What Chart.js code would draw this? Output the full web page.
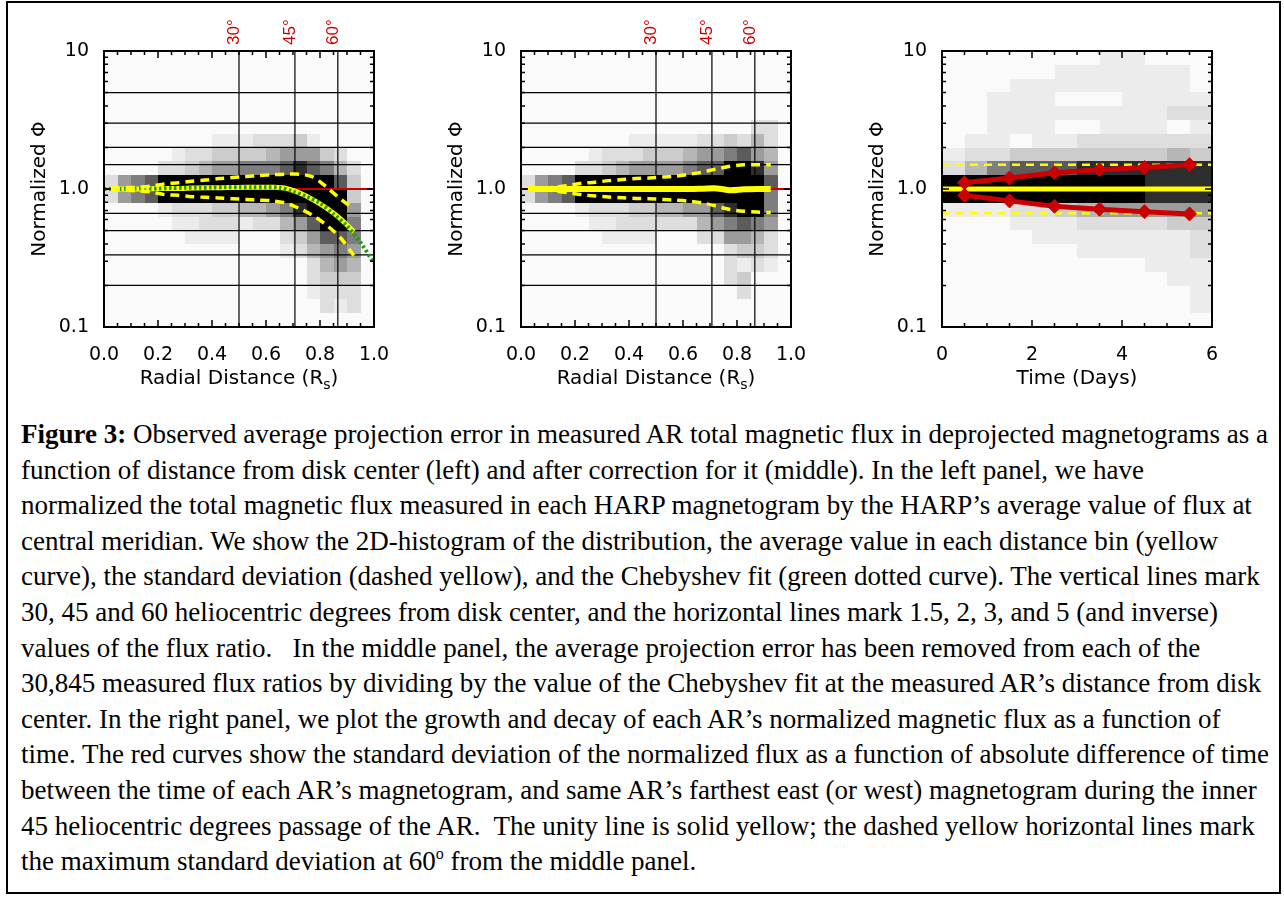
<!DOCTYPE html>
<html>
<head>
<meta charset="utf-8">
<script src="https://cdn.jsdelivr.net/npm/chart.js@4/dist/chart.umd.min.js"></script>
<style>
  html, body { margin:0; padding:0; background:#fff; }
  body { width:1284px; height:903px; position:relative; overflow:hidden; }
  #frame { position:absolute; left:6px; top:1px; width:1271px; height:889px; border:2px solid #000; }
  canvas.panel { position:absolute; top:0; }
  #caption { position:absolute; left:21px; top:417px; font-family:"Liberation Serif", "Times New Roman", serif;
             font-size:27px; line-height:35.6px; color:#000; }
  #caption div { white-space:pre; }
  #caption .sup { font-size:16px; position:relative; top:-11px; }
</style>
</head>
<body>
<div id="frame"></div>
<canvas id="left" class="panel" width="420" height="400" style="left:0px"></canvas>
<canvas id="middle" class="panel" width="420" height="400" style="left:417px"></canvas>
<canvas id="right" class="panel" width="420" height="400" style="left:838px"></canvas>

<div id="caption">
<div><b>Figure 3:</b> Observed average projection error in measured AR total magnetic flux in deprojected magnetograms as a</div>
<div>function of distance from disk center (left) and after correction for it (middle). In the left panel, we have</div>
<div>normalized the total magnetic flux measured in each HARP magnetogram by the HARP’s average value of flux at</div>
<div>central meridian. We show the 2D-histogram of the distribution, the average value in each distance bin (yellow</div>
<div>curve), the standard deviation (dashed yellow), and the Chebyshev fit (green dotted curve). The vertical lines mark</div>
<div>30, 45 and 60 heliocentric degrees from disk center, and the horizontal lines mark 1.5, 2, 3, and 5 (and inverse)</div>
<div>values of the flux ratio.   In the middle panel, the average projection error has been removed from each of the</div>
<div>30,845 measured flux ratios by dividing by the value of the Chebyshev fit at the measured AR’s distance from disk</div>
<div>center. In the right panel, we plot the growth and decay of each AR’s normalized magnetic flux as a function of</div>
<div>time. The red curves show the standard deviation of the normalized flux as a function of absolute difference of time</div>
<div>between the time of each AR’s magnetogram, and same AR’s farthest east (or west) magnetogram during the inner</div>
<div>45 heliocentric degrees passage of the AR.  The unity line is solid yellow; the dashed yellow horizontal lines mark</div>
<div>the maximum standard deviation at 60<span class="sup">o</span> from the middle panel.</div>
</div>

<script>
'use strict';

// ─── Data ─────────────────────────────────────────────────────────────────────

// radial distance bins (R_s), bin centres of the 0.05-wide histogram columns
const radialBins = [0.025, 0.075, 0.125, 0.175, 0.225, 0.275, 0.325, 0.375, 0.425, 0.475,
                    0.525, 0.575, 0.625, 0.675, 0.725, 0.775, 0.825, 0.875, 0.925];
const radialBinWidth = 0.05;

const leftMean  = [1.00, 1.00, 1.00, 1.005, 1.01, 1.01, 1.015, 1.02, 1.02, 1.025,
                   1.03, 1.03, 1.03, 1.01, 0.935, 0.835, 0.725, 0.61, 0.49];
const leftSdUp  = [1.01, 1.02, 1.03, 1.05, 1.09, 1.11, 1.14, 1.16, 1.19, 1.21,
                   1.23, 1.25, 1.27, 1.28, 1.28, 1.22, 1.03, 0.85, 0.72];
const leftSdLo  = [0.99, 0.98, 0.97, 0.95, 0.91, 0.90, 0.88, 0.87, 0.86, 0.85,
                   0.84, 0.83, 0.82, 0.79, 0.72, 0.64, 0.545, 0.445, 0.33];

// Chebyshev fit of the left panel
const fitRadius = [0, 0.05, 0.1, 0.15, 0.2, 0.25, 0.3, 0.35, 0.4, 0.45, 0.5,
                   0.55, 0.6, 0.65, 0.7, 0.75, 0.8, 0.85, 0.9, 0.95, 1.0];
const fitValues = [1.00, 1.00, 1.005, 1.01, 1.01, 1.015, 1.02, 1.02, 1.025, 1.03, 1.03,
                   1.03, 1.03, 1.02, 0.96, 0.88, 0.79, 0.66, 0.54, 0.41, 0.29];

const middleMean = [1.00, 1.00, 1.00, 1.00, 1.00, 1.00, 1.00, 1.00, 1.00, 1.00,
                    1.00, 1.00, 1.00, 1.005, 1.01, 0.98, 0.995, 1.00, 1.00];
const middleSdUp = [1.00, 1.01, 1.03, 1.06, 1.10, 1.12, 1.15, 1.17, 1.19, 1.20,
                    1.22, 1.24, 1.28, 1.33, 1.40, 1.46, 1.50, 1.50, 1.50];
const middleSdLo = [1.00, 0.99, 0.97, 0.94, 0.91, 0.89, 0.875, 0.865, 0.855, 0.85,
                    0.84, 0.83, 0.815, 0.79, 0.75, 0.71, 0.69, 0.68, 0.675];

// right panel: time bins (days) and sigma of normalized flux
const timeBins = [0.5, 1.5, 2.5, 3.5, 4.5, 5.5];
const timeBinWidth = 0.5;
const rightSigmaUp = [1.11, 1.20, 1.31, 1.38, 1.43, 1.50];
const rightSigmaLo = [0.90, 0.82, 0.75, 0.714, 0.685, 0.66];
const maxSigma60 = 1.5;

// reference lines
const ratioLines = [1.5, 2, 3, 5, 1 / 1.5, 1 / 2, 1 / 3, 1 / 5];
const degreeLines = [30, 45, 60];

// tick labels
const yTickValues = [0.1, 1, 10];
const yTickLabels = ['0.1', '1.0', '10'];

// 2D histograms: rows from log10 = 1 (top) down to -1, 0.1 dex per row;
// one digit per column, grey level 0 (empty) .. 9 (black)
const histLeft = [
  '00000000000000000000',
  '00000000000000000000',
  '00000000000000000000',
  '00000000000000000000',
  '00000000000000000000',
  '00000000000000000000',
  '00000000111222310000',
  '00000122333345553200',
  '00002234556667876420',
  '25679999999999999730',
  '25679999999999999930',
  '00001222334456899950',
  '00000112221224579960',
  '00000011110002357760',
  '00000000000001245650',
  '00000000000000024540',
  '00000000000000023330',
  '00000000000000012220',
  '00000000000000002120',
  '00000000000000000000',
];
const histMiddle = [
  '00000000000000000000',
  '00000000000000000000',
  '00000000000000000000',
  '00000000000000000000',
  '00000000000000000000',
  '00000000000000000220',
  '00000000111112232420',
  '00000122233345567540',
  '00002234555567799850',
  '25679999999999999970',
  '25679999999999999960',
  '00001222334455789960',
  '00000112222224567650',
  '00000011110002255420',
  '00000000000000023320',
  '00000000000000021210',
  '00000000000000023000',
  '00000000000000002000',
  '00000000000000000000',
  '00000000000000000000',
];
const histRight = [
  '000000011000',
  '000001111110',
  '000111111110',
  '001110001111',
  '001111111122',
  '001110011101',
  '011011222222',
  '122333333343',
  '246777888888',
  '999999999888',
  '999999999888',
  '111223455555',
  '000111222233',
  '000011111112',
  '000000111112',
  '000000000111',
  '000000000011',
  '000000000001',
  '000000000001',
  '000000000000',
];

// ─── Style ────────────────────────────────────────────────────────────────────

const GREYS = [250, 236, 222, 204, 182, 156, 126, 92, 45, 0];
const YELLOW = '#ffff00';
const RED = '#cc0000';
const GREEN = '#1f9a1f';
const AXIS_FONT = { family: 'DejaVu Sans', size: 19 };
const TITLE_FONT = '20px "DejaVu Sans"';
const SUB_FONT = '14px "DejaVu Sans"';

// ─── Plugins ──────────────────────────────────────────────────────────────────

function histogramPlugin(rows, binWidth) {
  return {
    id: 'histogram',
    beforeDatasetsDraw(chart) {
      const { ctx, chartArea: a, scales: { x, y } } = chart;
      ctx.save();
      ctx.fillStyle = '#fafafa';
      ctx.fillRect(a.left, a.top, a.width, a.height);
      rows.forEach((row, r) => {
        const yTop = Math.round(y.getPixelForValue(Math.pow(10, 1 - r * 0.1)));
        const yBot = Math.round(y.getPixelForValue(Math.pow(10, 1 - (r + 1) * 0.1)));
        for (let c = 0; c < row.length; c++) {
          const lvl = Number(row[c]);
          if (!lvl) continue;
          const g = GREYS[lvl];
          const x0 = Math.round(x.getPixelForValue(c * binWidth));
          const x1 = Math.round(x.getPixelForValue((c + 1) * binWidth));
          ctx.fillStyle = `rgb(${g},${g},${g})`;
          ctx.fillRect(x0, yTop, x1 - x0, yBot - yTop);
        }
      });
      ctx.restore();
    },
  };
}

function framePlugin(cfg) {
  return {
    id: 'idlFrame',
    afterDraw(chart) {
      const { ctx, chartArea: a, scales: { x, y } } = chart;
      ctx.save();
      ctx.strokeStyle = '#000';

      // inward tick marks
      ctx.lineWidth = 1.5;
      ctx.beginPath();
      const nx = Math.round(x.max / cfg.xMinor);
      for (let i = 0; i <= nx; i++) {
        const v = i * cfg.xMinor;
        const px = x.getPixelForValue(v);
        const major = Math.abs(v / cfg.xStep - Math.round(v / cfg.xStep)) < 1e-6;
        const len = major ? 7 : 4;
        ctx.moveTo(px, a.bottom); ctx.lineTo(px, a.bottom - len);
        ctx.moveTo(px, a.top); ctx.lineTo(px, a.top + len);
      }
      [0.1, 1].forEach(dec => {
        for (let k = 1; k <= 9; k++) {
          const py = y.getPixelForValue(k * dec);
          const len = k === 1 ? 7 : 4;
          ctx.moveTo(a.left, py); ctx.lineTo(a.left + len, py);
          ctx.moveTo(a.right, py); ctx.lineTo(a.right - len, py);
        }
      });
      ctx.stroke();

      // box
      ctx.lineWidth = 2;
      ctx.strokeRect(a.left, a.top, a.width, a.height);

      // y title
      ctx.fillStyle = '#000';
      ctx.font = TITLE_FONT;
      ctx.textAlign = 'center';
      ctx.textBaseline = 'middle';
      ctx.save();
      ctx.translate(a.left - 64, (a.top + a.bottom) / 2);
      ctx.rotate(-Math.PI / 2);
      ctx.fillText('Normalized Φ', 0, 0);
      ctx.restore();

      // x title (with optional subscript)
      const parts = cfg.xTitle;
      ctx.textAlign = 'left';
      ctx.textBaseline = 'alphabetic';
      let total = 0;
      parts.forEach(p => {
        ctx.font = p.sub ? SUB_FONT : TITLE_FONT;
        p.w = ctx.measureText(p.text).width;
        total += p.w;
      });
      let cx = (a.left + a.right) / 2 - total / 2;
      const base = a.bottom + 57;
      parts.forEach(p => {
        ctx.font = p.sub ? SUB_FONT : TITLE_FONT;
        ctx.fillText(p.text, cx, base + (p.sub ? 5 : 0));
        cx += p.w;
      });

      // heliocentric angle labels
      ctx.fillStyle = RED;
      ctx.font = '17px "Liberation Sans"';
      (cfg.degrees || []).forEach(d => {
        const px = x.getPixelForValue(Math.sin(d * Math.PI / 180));
        ctx.save();
        ctx.translate(px, a.top - 6);
        ctx.rotate(-Math.PI / 2);
        ctx.fillText(d + '°', 0, 0);
        ctx.restore();
      });
      ctx.restore();
    },
  };
}

// ─── Dataset helpers ─────────────────────────────────────────────────────────

function series(xs, ys, style) {
  return Object.assign({
    data: xs.map((v, i) => ({ x: v, y: ys[i] })),
    showLine: true,
    pointRadius: 0,
    fill: false,
  }, style);
}

function hLine(v, xMax, style) {
  return series([0, xMax], [v, v], style);
}

function vLine(v, style) {
  return series([v, v], [0.1, 10], style);
}

function gridLines(xMax) {
  const grid = { borderColor: '#000', borderWidth: 1.2 };
  return [
    ...ratioLines.map(v => hLine(v, xMax, grid)),
    ...degreeLines.map(d => vLine(Math.sin(d * Math.PI / 180), grid)),
  ];
}

// ─── Panel builder ───────────────────────────────────────────────────────────

function buildPanel(id, opts) {
  new Chart(document.getElementById(id), {
    type: 'scatter',
    data: { datasets: opts.datasets },
    options: {
      animation: false,
      responsive: false,
      devicePixelRatio: 1,
      layout: { padding: { left: 0, right: 46, top: 51, bottom: 0 } },
      plugins: { legend: { display: false }, tooltip: { enabled: false } },
      scales: {
        x: {
          type: 'linear', min: 0, max: opts.xMax,
          grid: { display: false }, border: { display: false },
          ticks: {
            stepSize: opts.xStep, padding: 9, color: '#000', font: AXIS_FONT,
            maxRotation: 0, autoSkip: false,
            callback: v => opts.xFmt(v),
          },
          afterFit: s => { s.height = 73; },
        },
        y: {
          type: 'logarithmic', min: 0.1, max: 10,
          grid: { display: false }, border: { display: false },
          afterBuildTicks: s => { s.ticks = yTickValues.map(v => ({ value: v })); },
          ticks: {
            padding: 7, color: '#000', font: AXIS_FONT,
            callback: v => yTickLabels[yTickValues.indexOf(v)],
          },
          afterFit: s => { s.width = 104; },
        },
      },
    },
    plugins: [
      histogramPlugin(opts.hist, opts.binWidth),
      framePlugin({ xMinor: opts.xMinor, xStep: opts.xStep, xTitle: opts.xTitle, degrees: opts.degrees }),
    ],
  });
}

const dashed = { borderColor: YELLOW, borderWidth: 3.5, borderDash: [9, 6], tension: 0.3 };
const radialTitle = [{ text: 'Radial Distance (R' }, { text: 's', sub: true }, { text: ')' }];

// datasets are listed top-most first
buildPanel('left', {
  xMax: 1, xStep: 0.2, xMinor: 0.05, xFmt: v => v.toFixed(1),
  hist: histLeft, binWidth: radialBinWidth, degrees: degreeLines, xTitle: radialTitle,
  datasets: [
    series(radialBins, leftSdUp, dashed),
    series(radialBins, leftSdLo, dashed),
    series(fitRadius, fitValues, { borderColor: GREEN, borderWidth: 4, borderDash: [2.5, 2.5], tension: 0.3 }),
    series(radialBins, leftMean, { borderColor: YELLOW, borderWidth: 5, tension: 0.3 }),
    hLine(1, 1, { borderColor: RED, borderWidth: 2 }),
    ...gridLines(1),
  ],
});

buildPanel('middle', {
  xMax: 1, xStep: 0.2, xMinor: 0.05, xFmt: v => v.toFixed(1),
  hist: histMiddle, binWidth: radialBinWidth, degrees: degreeLines, xTitle: radialTitle,
  datasets: [
    series(radialBins, middleSdUp, dashed),
    series(radialBins, middleSdLo, dashed),
    series(radialBins, middleMean, { borderColor: YELLOW, borderWidth: 6, tension: 0.3 }),
    hLine(1, 1, { borderColor: RED, borderWidth: 2 }),
    ...gridLines(1),
  ],
});

const redCurve = {
  borderColor: RED, borderWidth: 5, pointStyle: 'rectRot', pointRadius: 7,
  pointBackgroundColor: RED, pointBorderColor: RED, pointBorderWidth: 1,
};

buildPanel('right', {
  xMax: 6, xStep: 2, xMinor: 0.5, xFmt: v => String(Math.round(v)),
  hist: histRight, binWidth: timeBinWidth, degrees: [],
  xTitle: [{ text: 'Time (Days)' }],
  datasets: [
    series(timeBins, rightSigmaUp, redCurve),
    series(timeBins, rightSigmaLo, redCurve),
    hLine(1, 6, { borderColor: YELLOW, borderWidth: 5 }),
    hLine(maxSigma60, 6, { borderColor: YELLOW, borderWidth: 2.5, borderDash: [8, 6] }),
    hLine(1 / maxSigma60, 6, { borderColor: YELLOW, borderWidth: 2.5, borderDash: [8, 6] }),
  ],
});
</script>
</body>
</html>
